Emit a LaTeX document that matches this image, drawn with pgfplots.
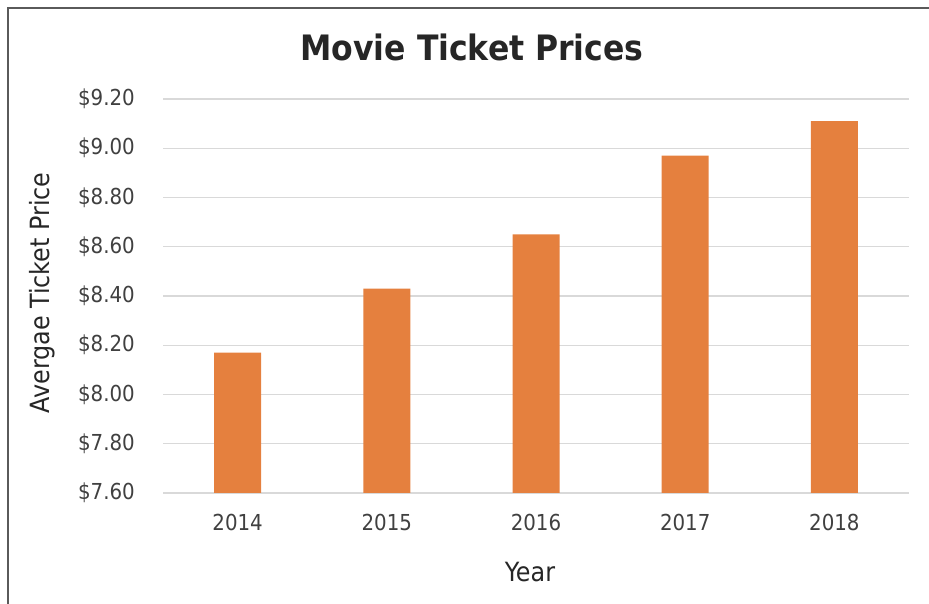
\documentclass[border=0pt]{standalone}
\usepackage{pgfplots}
\pgfplotsset{compat=1.18}
\usepackage{fontspec}
\setmainfont{DejaVu Sans Condensed}
\definecolor{barorange}{RGB}{229,128,62}
\definecolor{gridgray}{RGB}{217,217,217}
\definecolor{txtgray}{RGB}{64,64,64}
\definecolor{titlegray}{RGB}{38,38,38}
\definecolor{framegray}{RGB}{90,90,90}
\begin{document}
\begin{tikzpicture}[x=1pt,y=1pt]
\useasboundingbox (0,0) rectangle (929,604);
\draw[line width=1.5pt, framegray] (8,0) -- (8,596) -- (929,596);
\begin{axis}[at={(163pt,111pt)}, anchor=south west, scale only axis,
  width=746pt, height=394pt,
  xmin=-0.5, xmax=4.5, ymin=7.6, ymax=9.2,
  xtick={0,1,2,3,4}, xticklabels={2014,2015,2016,2017,2018},
  ytick={7.6,7.8,8.0,8.2,8.4,8.6,8.8,9.0,9.2},
  yticklabels={\$7.60,\$7.80,\$8.00,\$8.20,\$8.40,\$8.60,\$8.80,\$9.00,\$9.20},
  ymajorgrids, grid style={gridgray, line width=1.3pt},
  axis line style={draw=none}, major tick length=0pt,
  tick label style={font=\fontsize{22}{26}\selectfont, text=txtgray},
  yticklabel style={anchor=east, inner sep=0pt, xshift=-28pt},
  xticklabel style={anchor=north, inner sep=0pt, yshift=-21pt},
  ybar, bar width=47pt,
]
\addplot[fill=barorange, draw=none] coordinates {(0,8.17) (1,8.43) (2,8.65) (3,8.97) (4,9.11)};
\end{axis}
\node[font=\fontsize{35}{40}\selectfont\bfseries, text=titlegray] at (472,557) {Movie Ticket Prices};
\node[font=\fontsize{26.5}{30}\selectfont, text=titlegray, rotate=90] at (42,311) {Avergae Ticket Price};
\node[font=\fontsize{26.5}{30}\selectfont, text=titlegray] at (530,32) {Year};
\end{tikzpicture}
\end{document}
